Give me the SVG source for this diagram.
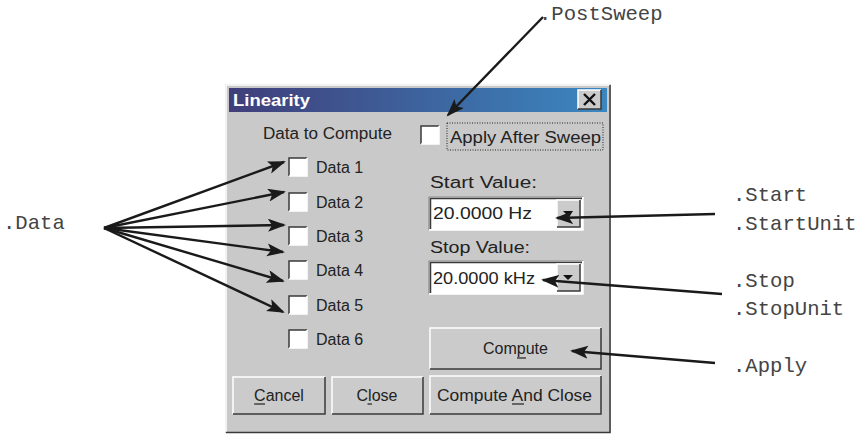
<svg xmlns="http://www.w3.org/2000/svg" width="866" height="435" viewBox="0 0 866 435">
<defs>
<linearGradient id="tb" x1="0" y1="0" x2="1" y2="0">
<stop offset="0" stop-color="#403e7a"/>
<stop offset="1" stop-color="#3b87c0"/>
</linearGradient>
<marker id="ah" markerUnits="userSpaceOnUse" markerWidth="20" markerHeight="14" refX="16" refY="6.5" orient="auto">
<path d="M0,0 L18,6.5 L0,13 L4,6.5 Z" fill="#1a1a1a"/>
</marker>
<style>
.ui{font-family:"Liberation Sans",Arial,sans-serif;font-size:16px;fill:#222}
.mono{font-family:"Liberation Mono","Courier New",monospace;font-size:20.6px;fill:#444}
.hi{fill:none;stroke:#ffffff;stroke-width:1.5}
.sh{fill:none;stroke:#3a3a3a;stroke-width:1.5}
.sh2{fill:none;stroke:#8a8a8a;stroke-width:1.2}
.cb{fill:#ffffff}
.btn{fill:#cbcbcb}
.conn{fill:none;stroke:#1a1a1a;stroke-width:2.4;marker-end:url(#ah)}
.ul{stroke:#222;stroke-width:1.2}
</style>
</defs>

<g id="dialog">
<rect x="225" y="84" width="386" height="349" fill="#c9c9c9"/>
<polyline class="hi" points="226,432 226,85 610,85"/>
<polyline class="sh" points="226,432.5 610,432.5 610,85"/>
<rect x="229" y="88" width="378" height="24" fill="url(#tb)"/>
<text x="233" y="106" textLength="77" lengthAdjust="spacingAndGlyphs" style="font-family:'Liberation Sans',Arial,sans-serif;font-size:17px;font-weight:bold;fill:#ffffff">Linearity</text>
<g id="close-x">
<rect x="578" y="90" width="23" height="19" class="btn"/>
<polyline class="hi" points="578,109 578,90 601,90"/>
<polyline class="sh" points="578,109 601,109 601,90"/>
<path d="M584,94 L595,105 M595,94 L584,105" stroke="#111" stroke-width="2.4"/>
</g>
</g>

<g id="data-to-compute">
<text class="ui" x="263" y="139" textLength="129" lengthAdjust="spacingAndGlyphs">Data to Compute</text>
</g>

<g id="data1">
<rect class="cb" x="289" y="158" width="18" height="18"/>
<polyline class="sh" points="289,176 289,158 307,158"/>
<polyline class="hi" points="289,176 307,176 307,158"/>
<text class="ui" x="316" y="173">Data 1</text>
</g>
<g id="data2">
<rect class="cb" x="289" y="193" width="18" height="18"/>
<polyline class="sh" points="289,211 289,193 307,193"/>
<polyline class="hi" points="289,211 307,211 307,193"/>
<text class="ui" x="316" y="208">Data 2</text>
</g>
<g id="data3">
<rect class="cb" x="289" y="227" width="18" height="18"/>
<polyline class="sh" points="289,245 289,227 307,227"/>
<polyline class="hi" points="289,245 307,245 307,227"/>
<text class="ui" x="316" y="242">Data 3</text>
</g>
<g id="data4">
<rect class="cb" x="289" y="261" width="18" height="18"/>
<polyline class="sh" points="289,279 289,261 307,261"/>
<polyline class="hi" points="289,279 307,279 307,261"/>
<text class="ui" x="316" y="276">Data 4</text>
</g>
<g id="data5">
<rect class="cb" x="289" y="296" width="18" height="18"/>
<polyline class="sh" points="289,314 289,296 307,296"/>
<polyline class="hi" points="289,314 307,314 307,296"/>
<text class="ui" x="316" y="311">Data 5</text>
</g>
<g id="data6">
<rect class="cb" x="289" y="330" width="18" height="18"/>
<polyline class="sh" points="289,348 289,330 307,330"/>
<polyline class="hi" points="289,348 307,348 307,330"/>
<text class="ui" x="316" y="345">Data 6</text>
</g>

<g id="apply-after-sweep">
<rect class="cb" x="421" y="126" width="18" height="18"/>
<polyline class="sh" points="421,144 421,126 439,126"/>
<polyline class="hi" points="421,144 439,144 439,126"/>
<rect x="447" y="123" width="156" height="27" fill="none" stroke="#222" stroke-width="1" stroke-dasharray="1,1.5"/>
<text class="ui" x="450" y="143" textLength="151" lengthAdjust="spacingAndGlyphs">Apply After Sweep</text>
</g>

<g id="start-value">
<text class="ui" x="430" y="188" textLength="107" lengthAdjust="spacingAndGlyphs">Start Value:</text>
<rect x="429" y="197" width="154" height="33" fill="#ffffff"/>
<polyline class="sh2" points="429,230 429,197 583,197"/>
<polyline class="sh" points="430.5,229 430.5,198.5 582,198.5"/>
<polyline class="hi" points="429,230 583,230 583,197"/>
<rect x="557" y="200" width="23" height="27" class="btn"/>
<polyline class="hi" points="557,227 557,200 580,200"/>
<polyline class="sh" points="557,227 580,227 580,200"/>
<path d="M563,211 L573,211 L568,216 Z" fill="#111"/>
<text class="ui" x="433" y="219" textLength="99" lengthAdjust="spacingAndGlyphs">20.0000  Hz</text>
</g>

<g id="stop-value">
<text class="ui" x="430" y="253" textLength="100" lengthAdjust="spacingAndGlyphs">Stop Value:</text>
<rect x="429" y="261" width="154" height="33" fill="#ffffff"/>
<polyline class="sh2" points="429,294 429,261 583,261"/>
<polyline class="sh" points="430.5,293 430.5,262.5 582,262.5"/>
<polyline class="hi" points="429,294 583,294 583,261"/>
<rect x="557" y="264" width="23" height="27" class="btn"/>
<polyline class="hi" points="557,291 557,264 580,264"/>
<polyline class="sh" points="557,291 580,291 580,264"/>
<path d="M563,275 L573,275 L568,280 Z" fill="#111"/>
<text class="ui" x="433" y="284" textLength="102" lengthAdjust="spacingAndGlyphs">20.0000 kHz</text>
</g>

<g id="compute">
<rect x="430" y="328" width="171" height="41" class="btn"/>
<polyline class="hi" points="430,369 430,328 601,328"/>
<polyline class="sh" points="430,369 601,369 601,328"/>
<text class="ui" x="515.5" y="354" text-anchor="middle">Compute</text>
<line class="ul" x1="517" y1="358" x2="526" y2="358"/>
</g>

<g id="cancel">
<rect x="233" y="377" width="92" height="37" class="btn"/>
<polyline class="hi" points="233,414 233,377 325,377"/>
<polyline class="sh" points="233,414 325,414 325,377"/>
<text class="ui" x="279" y="401" text-anchor="middle">Cancel</text>
<line class="ul" x1="254" y1="404" x2="265" y2="404"/>
</g>

<g id="close">
<rect x="332" y="377" width="91" height="37" class="btn"/>
<polyline class="hi" points="332,414 332,377 423,377"/>
<polyline class="sh" points="332,414 423,414 423,377"/>
<text class="ui" x="377" y="401" text-anchor="middle">Close</text>
<line class="ul" x1="367.5" y1="404" x2="372" y2="404"/>
</g>

<g id="compute-and-close">
<rect x="430" y="376" width="171" height="38" class="btn"/>
<polyline class="hi" points="430,414 430,376 601,376"/>
<polyline class="sh" points="430,414 601,414 601,376"/>
<text class="ui" x="514.5" y="401" text-anchor="middle" textLength="155" lengthAdjust="spacingAndGlyphs">Compute And Close</text>
<line class="ul" x1="512" y1="404" x2="524" y2="404"/>
</g>

<g id="labels">
<text class="mono" x="3" y="229">.Data</text>
<text class="mono" x="539" y="20">.PostSweep</text>
<text class="mono" x="733" y="201">.Start</text>
<text class="mono" x="733" y="230">.StartUnit</text>
<text class="mono" x="733" y="287">.Stop</text>
<text class="mono" x="733" y="315">.StopUnit</text>
<text class="mono" x="733" y="372">.Apply</text>
</g>

<g id="connectors">
<line class="conn" x1="104" y1="228" x2="284" y2="162"/>
<line class="conn" x1="104" y1="228" x2="284" y2="192"/>
<line class="conn" x1="104" y1="228" x2="284" y2="225"/>
<line class="conn" x1="104" y1="228" x2="283" y2="252"/>
<line class="conn" x1="104" y1="228" x2="283" y2="281"/>
<line class="conn" x1="104" y1="228" x2="283" y2="312"/>
<line class="conn" x1="543" y1="17" x2="448" y2="115"/>
<line class="conn" x1="715" y1="214" x2="557" y2="218"/>
<line class="conn" x1="722" y1="294" x2="543" y2="280"/>
<line class="conn" x1="715" y1="363" x2="572" y2="351"/>
</g>
</svg>
